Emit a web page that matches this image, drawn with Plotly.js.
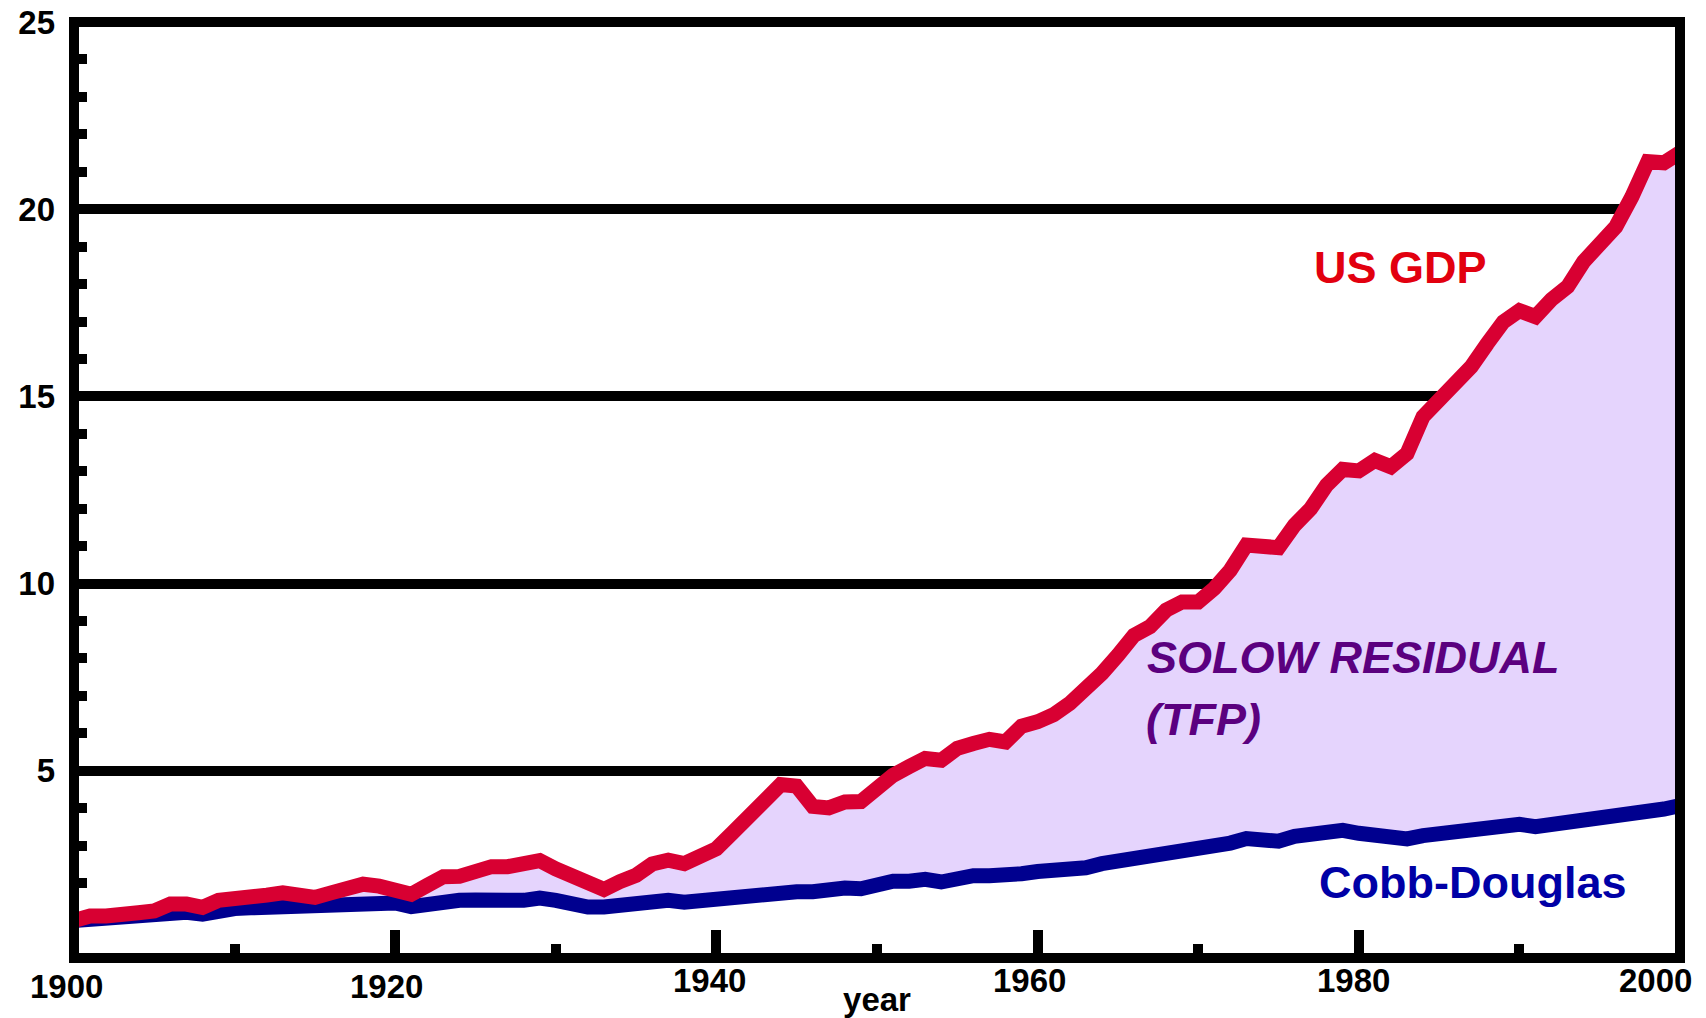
<!DOCTYPE html>
<html>
<head>
<meta charset="utf-8">
<script src="https://cdn.plot.ly/plotly-3.0.1.min.js"></script>
<style>
  html, body { margin: 0; padding: 0; background: #ffffff; }
  #chart { width: 1706px; height: 1018px; }
</style>
</head>
<body>
<div id="chart"></div>
<script>
// ---- data ----
const years = [];
for (let y = 1900; y <= 2000; y++) years.push(y);

const usGdp = [
  1.00, 1.12, 1.12, 1.21, 1.21, 1.26, 1.44, 1.44, 1.35, 1.54,
  1.56, 1.62, 1.68, 1.74, 1.68, 1.62, 1.74, 1.81, 1.97, 1.92,
  1.86, 1.70, 1.94, 2.17, 2.18, 2.33, 2.44, 2.44, 2.51, 2.60,
  2.38, 2.20, 1.92, 1.83, 2.04, 2.21, 2.51, 2.61, 2.52, 2.75,
  2.92, 3.34, 3.81, 4.30, 4.63, 4.59, 4.05, 4.01, 4.17, 4.18,
  4.60, 4.88, 5.11, 5.33, 5.28, 5.60, 5.73, 5.84, 5.77, 6.19,
  6.31, 6.50, 6.80, 7.15, 7.60, 8.09, 8.62, 8.85, 9.29, 9.51,
  9.51, 9.87, 10.36, 11.03, 11.00, 10.96, 11.56, 12.00, 12.63, 13.05,
  13.01, 13.29, 13.12, 13.47, 14.46, 14.90, 15.34, 15.79, 16.41, 16.99,
  17.29, 17.13, 17.59, 17.93, 18.60, 19.01, 19.53, 20.33, 21.27, 21.24,
  21.51
];

const cobbDouglas = [
  1.00, 1.04, 1.07, 1.10, 1.13, 1.16, 1.19, 1.22, 1.17, 1.28,
  1.32, 1.34, 1.36, 1.38, 1.38, 1.37, 1.41, 1.46, 1.47, 1.41,
  1.47, 1.37, 1.43, 1.54, 1.54, 1.55, 1.58, 1.54, 1.54, 1.60,
  1.54, 1.40, 1.36, 1.36, 1.40, 1.42, 1.54, 1.54, 1.49, 1.54,
  1.58, 1.64, 1.70, 1.76, 1.80, 1.77, 1.77, 1.86, 1.87, 1.85,
  2.00, 2.05, 2.05, 2.10, 2.03, 2.14, 2.20, 2.20, 2.20, 2.25,
  2.31, 2.31, 2.36, 2.41, 2.52, 2.58, 2.63, 2.69, 2.83, 2.87,
  2.94, 3.00, 3.07, 3.19, 3.16, 3.12, 3.25, 3.30, 3.35, 3.41,
  3.33, 3.27, 3.18, 3.18, 3.27, 3.32, 3.36, 3.45, 3.51, 3.53,
  3.57, 3.51, 3.57, 3.63, 3.69, 3.74, 3.81, 3.83, 3.83, 3.98,
  4.07
];

const xTickVals = [1900, 1920, 1940, 1960, 1980, 2000];
const xTickText = ['1900', '1920', '1940', '1960', '1980', '2000'];
const yTickVals = [5, 10, 15, 20, 25];
const yTickText = ['5', '10', '15', '20', '25'];

// ---- styling ----
const FONT = 'Liberation Sans, Arial, Helvetica, sans-serif';
const RED = '#d80032';
const BLUE = '#00008f';
const FILL = '#e5d4fd';
// per-label nudges (px) of the year labels, as in the reference
const xLabelShift = [-8, -9, -7, -8, -5, -25];
const xLabelDrop  = [-28, -28, -22, -22, -22, -22];

const traces = [
  {
    x: years, y: cobbDouglas, type: 'scatter', mode: 'lines',
    name: 'Cobb-Douglas',
    line: { color: BLUE, width: 15, shape: 'linear' },
    hoverinfo: 'x+y'
  },
  {
    x: years, y: usGdp, type: 'scatter', mode: 'lines',
    name: 'US GDP',
    fill: 'tonexty', fillcolor: FILL,
    line: { color: RED, width: 15, shape: 'linear' },
    hoverinfo: 'x+y'
  }
];

const annotations = xTickVals.map((v, i) => ({
  x: v, xref: 'x', y: 0, yref: 'paper',
  text: xTickText[i], showarrow: false,
  xanchor: 'center', yanchor: 'middle',
  xshift: xLabelShift[i], yshift: xLabelDrop[i],
  font: { family: FONT, size: 33, color: '#000000', weight: 'bold' }
}));

annotations.push(
  {
    x: 1982.6, y: 18.43, xref: 'x', yref: 'y', text: 'US GDP',
    showarrow: false, xanchor: 'center', yanchor: 'middle',
    font: { family: FONT, size: 45, color: '#e2000f', weight: 'bold' }
  },
  {
    x: 1987.1, y: 2.03, xref: 'x', yref: 'y', text: 'Cobb-Douglas',
    showarrow: false, xanchor: 'center', yanchor: 'middle',
    font: { family: FONT, size: 45, color: '#0000a6', weight: 'bold' }
  },
  {
    x: 1966.7, y: 8.03, xref: 'x', yref: 'y', text: 'SOLOW RESIDUAL',
    showarrow: false, xanchor: 'left', yanchor: 'middle',
    font: { family: FONT, size: 45, color: '#5b007f', weight: 'bold', style: 'italic' }
  },
  {
    x: 1966.6, y: 6.36, xref: 'x', yref: 'y', text: '(TFP)',
    showarrow: false, xanchor: 'left', yanchor: 'middle',
    font: { family: FONT, size: 45, color: '#5b007f', weight: 'bold', style: 'italic' }
  }
);

const layout = {
  width: 1706, height: 1018,
  margin: { l: 74, r: 26, t: 22, b: 60, pad: 0 },
  paper_bgcolor: '#ffffff', plot_bgcolor: '#ffffff',
  showlegend: false,
  xaxis: {
    range: [1900, 2000],
    showgrid: false, zeroline: false, showline: false,
    tickmode: 'array', tickvals: xTickVals,
    ticks: 'inside', ticklen: 28, tickwidth: 10, tickcolor: '#000000',
    showticklabels: false,
    minor: { dtick: 10, tick0: 1900, ticks: 'inside', ticklen: 14, tickwidth: 10, tickcolor: '#000000', showgrid: false },
    title: { text: 'year', standoff: 30, font: { family: FONT, size: 33, color: '#000000', weight: 'bold' } },
    fixedrange: true
  },
  yaxis: {
    range: [0, 25],
    tickmode: 'array', tickvals: yTickVals, ticktext: yTickText,
    showgrid: true, gridcolor: '#000000', gridwidth: 10,
    zeroline: false, showline: false,
    ticks: '', ticklabelstandoff: 18,
    tickfont: { family: FONT, size: 33, color: '#000000', weight: 'bold' },
    minor: { dtick: 1, tick0: 0, ticks: 'inside', ticklen: 13, tickwidth: 10, tickcolor: '#000000', showgrid: false },
    layer: 'below traces',
    fixedrange: true
  },
  shapes: [
    {
      type: 'rect', xref: 'paper', yref: 'paper', x0: 0, x1: 1, y0: 0, y1: 1,
      line: { color: '#000000', width: 10 }, fillcolor: 'rgba(0,0,0,0)', layer: 'above'
    }
  ],
  annotations: annotations
};

Plotly.newPlot('chart', traces, layout, { staticPlot: true, displayModeBar: false });
</script>
</body>
</html>
